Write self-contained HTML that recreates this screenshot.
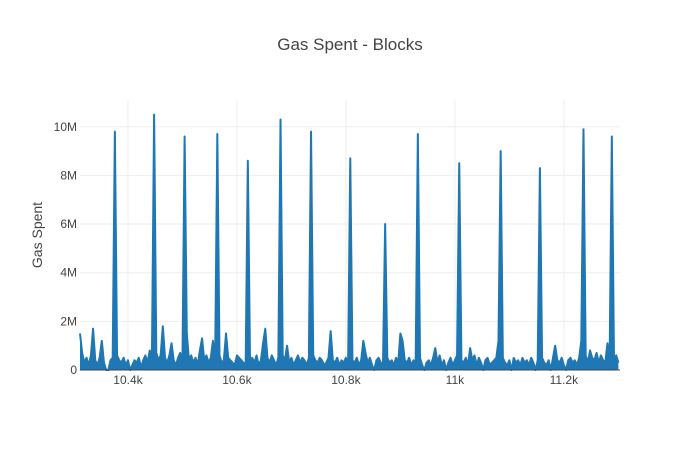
<!DOCTYPE html>
<html><head><meta charset="utf-8"><style>
body{margin:0;background:#fff}
svg text{font-family:"Liberation Sans",Arial,sans-serif;fill:#444}
</style></head><body>
<svg id="chart" width="700" height="450" xmlns="http://www.w3.org/2000/svg">
<rect width="700" height="450" fill="#fff"/>
<text x="350" y="50" text-anchor="middle" font-size="17">Gas Spent - Blocks</text>
<text transform="translate(42,235) rotate(-90)" text-anchor="middle" font-size="14">Gas Spent</text>
<g id="grid"></g><g id="series"></g><g id="axes"></g>
</svg>
<script>
const startBlock = 10312;
const blockStep = 4;
// gas spent in units of 0.1M, one value per blockStep blocks
const gasValues = [
15,7,3,5,2,6,17,4,2,5,12,3,0,0,4,5,98,6,4,3,
5,2,4,0,2,4,3,5,1,4,6,3,8,5,105,7,4,6,18,5,
3,6,11,4,2,5,7,3,96,15,4,6,3,5,2,8,13,4,6,3,
5,12,4,97,6,3,4,15,5,4,3,2,6,5,4,3,2,86,4,5,
3,6,2,4,11,17,5,3,6,4,2,5,103,6,4,10,3,5,2,4,
6,3,5,4,2,5,98,6,4,3,5,4,2,3,5,16,4,3,5,2,
4,3,5,2,87,4,3,5,2,4,12,7,3,5,2,0,4,5,3,2,
60,5,3,4,2,5,3,15,12,4,3,5,2,4,3,97,5,2,0,3,
4,2,5,9,3,6,2,4,0,3,5,2,4,6,85,4,3,5,2,9,
4,6,2,5,3,0,4,5,2,3,4,5,12,90,5,3,2,4,0,5,
3,4,2,5,3,4,2,5,3,0,4,83,5,3,2,4,0,5,10,4,
3,5,2,0,4,5,3,4,2,5,12,99,6,3,8,5,4,7,3,6,
4,3,11,5,96,4,6,3];
const yTicks = [0,2,4,6,8,10];
const yTickLabels = ["0","2M","4M","6M","8M","10M"];
const xTicks = [10400,10600,10800,11000,11200];
const xTickLabels = ["10.4k","10.6k","10.8k","11k","11.2k"];

const L=80,R=620,T=100,B=370, xMin=10312, xMax=11303, yMax=11.1;
const xs=v=>L+(v-xMin)/(xMax-xMin)*(R-L);
const ys=v=>B-v/yMax*(B-T);
const NS="http://www.w3.org/2000/svg";
const grid=document.getElementById('grid'), axes=document.getElementById('axes'), series=document.getElementById('series');
function mk(tag,attrs,parent){const e=document.createElementNS(NS,tag);for(const k in attrs)e.setAttribute(k,attrs[k]);parent.appendChild(e);return e;}
yTicks.forEach((t,i)=>{
  if(t>0){const g=mk('line',{x1:L,x2:R,y1:ys(t),y2:ys(t),stroke:'#eee','stroke-width':1},grid);
  
  }
  const tx=mk('text',{x:L-3,y:ys(t)+4,'text-anchor':'end','font-size':12},axes);
  tx.textContent=yTickLabels[i];
  
  
});
xTicks.forEach((t,i)=>{
  const g=mk('line',{x1:xs(t),x2:xs(t),y1:T,y2:B,stroke:'#eee','stroke-width':1},grid);
  
  
  const tx=mk('text',{x:xs(t),y:B+14,'text-anchor':'middle','font-size':12},axes);
  tx.textContent=xTickLabels[i];
  
  
});
let d='';
gasValues.forEach((v,i)=>{d+=(i?'L':'M')+xs(startBlock+i*blockStep).toFixed(2)+','+ys(v/10).toFixed(2);});
const last=xs(startBlock+(gasValues.length-1)*blockStep).toFixed(2);
const area=mk('path',{d:d+'L'+last+','+B+'L'+xs(startBlock).toFixed(2)+','+B+'Z',fill:'#1f77b4',stroke:'none'},series);


const p=mk('path',{d:d,fill:'none',stroke:'#1f77b4','stroke-width':2,'stroke-linejoin':'round'},series);


const z=mk('line',{x1:L,x2:R,y1:B,y2:B,stroke:'#444','stroke-width':1},axes);


</script>
</body></html>
